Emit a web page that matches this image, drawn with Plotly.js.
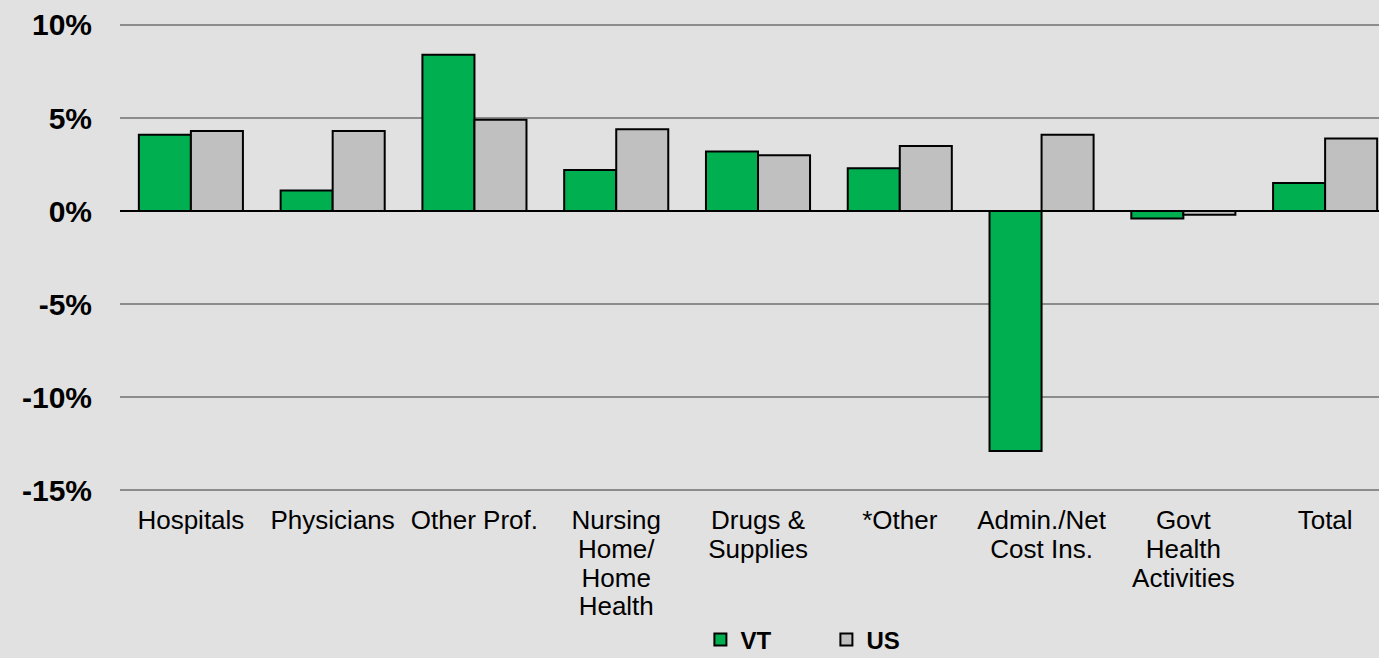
<!DOCTYPE html>
<html>
<head>
<meta charset="utf-8">
<script src="https://cdn.plot.ly/plotly-3.0.1.min.js"></script>
<style>
  html, body { margin: 0; padding: 0; background: #e1e1e1; }
  #chart { width: 1379px; height: 658px; }
</style>
</head>
<body>
<div id="chart"></div>
<script>
const categories = [
  "Hospitals",
  "Physicians",
  "Other Prof.",
  "Nursing<br>Home/<br>Home<br>Health",
  "Drugs &<br>Supplies",
  "*Other",
  "Admin./Net<br>Cost Ins.",
  "Govt<br>Health<br>Activities",
  "Total"
];
const vtValues = [4.1, 1.1, 8.4, 2.2, 3.2, 2.3, -12.9, -0.4, 1.5];
const usValues = [4.3, 4.3, 4.9, 4.4, 3.0, 3.5, 4.1, -0.2, 3.9];
const tickVals = [-15, -10, -5, 0, 5, 10];
const tickText = ["-15%", "-10%", "-5%", "0%", "5%", "10%"];

// larger glyphs with tighter line pitch (as in the original slide)
const catTickText = categories.map(c =>
  c.split("<br>").map(line => '<span style="font-size:26px">' + line + '</span>').join("<br>")
);

const traces = [
  {
    type: "bar", name: "VT", x: categories, y: vtValues,
    marker: { color: "#00b050", line: { color: "#000000", width: 2 } },
    hoverinfo: "skip"
  },
  {
    type: "bar", name: "US", x: categories, y: usValues,
    marker: { color: "#c0c0c0", line: { color: "#000000", width: 2 } },
    hoverinfo: "skip"
  }
];

const layout = {
  width: 1379, height: 658,
  paper_bgcolor: "#e1e1e1",
  plot_bgcolor: "#e1e1e1",
  font: { family: "Liberation Sans, Arial, sans-serif", color: "#000000", size: 20 },
  margin: { l: 120, r: 0, t: 22, b: 165, autoexpand: false },
  barmode: "group",
  bargap: 0.266,
  bargroupgap: 0,
  showlegend: true,
  legend: {
    orientation: "h",
    x: 0.461, xanchor: "left",
    y: -0.312, yanchor: "middle",
    font: { size: 24, family: "Liberation Sans, Arial, sans-serif", weight: "bold" },
    bgcolor: "rgba(0,0,0,0)",
    entrywidth: 81
  },
  xaxis: {
    type: "category",
    range: [-0.5, 8.38],
    tickvals: categories,
    ticktext: catTickText,
    showgrid: false,
    zeroline: false,
    showline: false,
    ticks: "outside",
    ticklen: 9,
    tickcolor: "rgba(0,0,0,0)",
    tickfont: { size: 22, family: "Liberation Sans, Arial, sans-serif" },
    tickangle: 0,
    automargin: false
  },
  yaxis: {
    range: [-15.161, 10.161],
    tickvals: tickVals,
    ticktext: tickText,
    tickfont: { size: 30, family: "Liberation Sans, Arial, sans-serif", weight: "bold" },
    showgrid: true,
    gridcolor: "#8c8c8c",
    gridwidth: 2,
    zeroline: true,
    zerolinecolor: "#000000",
    zerolinewidth: 1.5,
    ticks: "outside",
    ticklen: 21,
    tickcolor: "rgba(0,0,0,0)",
    showline: false,
    automargin: false
  }
};

Plotly.newPlot("chart", traces, layout, { displayModeBar: false, staticPlot: true });
</script>
</body>
</html>
